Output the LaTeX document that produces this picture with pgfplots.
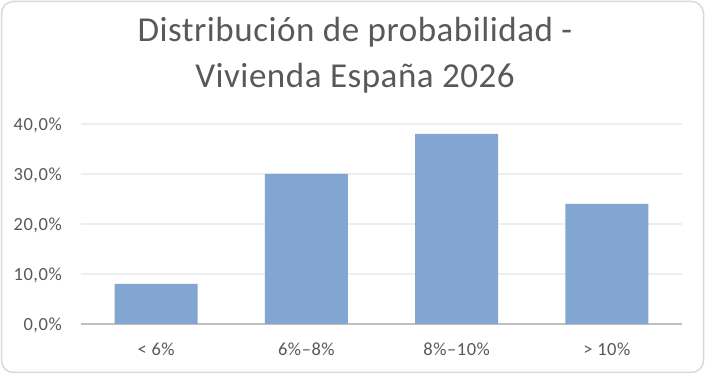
\documentclass[border=0pt]{standalone}
\usepackage{pgfplots}
\pgfplotsset{compat=1.18}
\usepackage{fontspec}
\setmainfont{Carlito}
\newfontfamily\titlefont[LetterSpace=1.5]{Carlito}
\newfontfamily\tickfont[LetterSpace=3]{Carlito}
\definecolor{barblue}{RGB}{130,166,209}
\definecolor{txtgray}{RGB}{89,89,89}
\definecolor{gridgray}{RGB}{238,238,238}
\definecolor{axisgray}{RGB}{191,191,191}
\definecolor{framegray}{RGB}{217,217,217}
\begin{document}
\begin{tikzpicture}[x=1pt,y=1pt]
\fill[white] (0,0) rectangle (705,374);
\draw[framegray, line width=1.5pt, rounded corners=12pt] (1.5,1.5) rectangle (703.5,372.5);
\node[anchor=base, text=txtgray, font=\titlefont\fontsize{35}{40}\selectfont] at (355,332) {Distribución de probabilidad -};
\node[anchor=base, text=txtgray, font=\titlefont\fontsize{35}{40}\selectfont] at (355,286) {Vivienda España 2026};
\begin{axis}[
  at={(81pt,50pt)}, anchor=south west,
  scale only axis, width=601pt, height=200pt,
  xmin=-0.5, xmax=3.5, ymin=0, ymax=40,
  axis x line=bottom, axis y line=left,
  x axis line style={axisgray, line width=2.5pt, -},
  y axis line style={draw=none},
  xtick=data, xticklabels={< 6\%, 6\%–8\%, 8\%–10\%, > 10\%},
  ytick={0,10,20,30,40},
  yticklabels={0{,}0\%,10{,}0\%,20{,}0\%,30{,}0\%,40{,}0\%},
  major tick length=0pt,
  ymajorgrids, grid style={gridgray, line width=1.5pt},
  xticklabel style={anchor=base, yshift=-32pt, inner sep=0pt, text=txtgray, font=\tickfont\fontsize{18.5}{20}\selectfont},
  yticklabel style={anchor=base east, inner sep=0pt, xshift=-19pt, yshift=-6.5pt, text=txtgray, font=\tickfont\fontsize{18.5}{20}\selectfont},
  ybar, bar width=83pt, bar shift=0pt,
  clip=false,
]
\addplot[fill=barblue, draw=none] coordinates {(0,8) (1,30) (2,38) (3,24)};
\end{axis}
\end{tikzpicture}
\end{document}
